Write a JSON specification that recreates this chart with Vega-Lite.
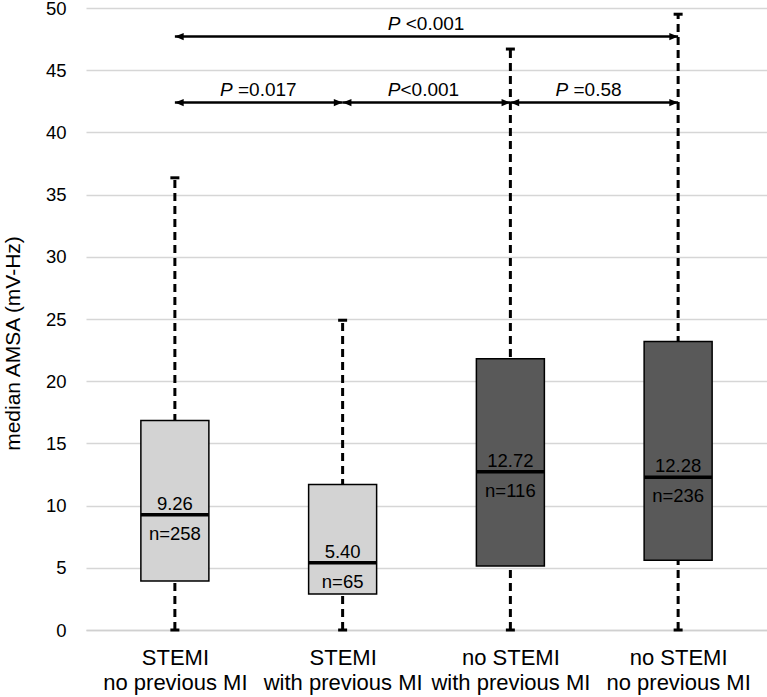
{
  "$schema": "https://vega.github.io/schema/vega-lite/v6.json",
  "autosize": "none",
  "width": 681,
  "height": 622,
  "padding": {"left": 86, "top": 8, "right": 0, "bottom": 67},
  "background": "white",
  "config": {"font": "Liberation Sans", "view": {"stroke": null}},
  "resolve": {"axis": {"x": "independent", "y": "independent"}},
  "datasets": {
    "boxes": [
      {"pos": 1, "type": "STEMI", "lo": 0, "q1": 3.93, "median": 9.26, "q3": 16.85, "hi": 36.35, "med": "9.26", "n": "n=258"},
      {"pos": 2, "type": "STEMI", "lo": 0, "q1": 2.9, "median": 5.4, "q3": 11.7, "hi": 24.9, "med": "5.40", "n": "n=65"},
      {"pos": 3, "type": "no STEMI", "lo": 0, "q1": 5.14, "median": 12.72, "q3": 21.8, "hi": 46.7, "med": "12.72", "n": "n=116"},
      {"pos": 4, "type": "no STEMI", "lo": 0, "q1": 5.6, "median": 12.28, "q3": 23.2, "hi": 49.5, "med": "12.28", "n": "n=236"}
    ],
    "arrows": [
      {"x1": 1, "x2": 4, "xm": 2.5, "y": 47.7, "p": "P", "rest": "\u200b\u00a0<0.001"},
      {"x1": 1, "x2": 2, "xm": 1.5, "y": 42.4, "p": "P", "rest": "\u200b\u00a0=0.017"},
      {"x1": 2, "x2": 3, "xm": 2.5, "y": 42.4, "p": "P", "rest": "<0.001"},
      {"x1": 3, "x2": 4, "xm": 3.5, "y": 42.4, "p": "P", "rest": "\u200b\u00a0=0.58"}
    ]
  },
  "layer": [
    {
      "data": {"name": "boxes"},
      "mark": {"type": "rule", "color": "black", "strokeWidth": 3, "strokeDash": [8, 5]},
      "encoding": {
        "x": {"field": "pos", "type": "quantitative", "scale": {"domain": [0.5, 4.5], "nice": false, "zero": false},
          "axis": {"values": [1, 2, 3, 4], "title": null, "grid": false, "ticks": false, "tickSize": 0,
            "labelExpr": "datum.value == 1 ? ['STEMI', 'no previous MI'] : datum.value == 2 ? ['STEMI', 'with previous MI'] : datum.value == 3 ? ['no STEMI', 'with previous MI'] : ['no STEMI', 'no previous MI']",
            "labelFontSize": 22, "labelLineHeight": 25, "labelPadding": 17, "labelColor": "black",
            "labelOverlap": false, "labelBound": false, "labelFlush": false,
            "domainColor": "#d0d0d0", "domainWidth": 1.5}},
        "y": {"field": "lo", "type": "quantitative", "scale": {"domain": [0, 50], "nice": false},
          "axis": {"values": [0, 5, 10, 15, 20, 25, 30, 35, 40, 45, 50], "title": "median AMSA (mV-Hz)",
            "grid": true, "gridColor": "#d6d6d6", "gridWidth": 1.5, "domain": false, "ticks": false, "tickSize": 0,
            "labelPadding": 20, "labelFontSize": 18.5, "labelColor": "black",
            "titleFontSize": 21, "titleFontWeight": "normal", "titleColor": "black", "titleX": -63, "titleY": 335}},
        "y2": {"field": "hi"}
      }
    },
    {
      "data": {"name": "boxes"},
      "mark": {"type": "tick", "orient": "horizontal", "color": "black", "size": 9, "thickness": 3, "opacity": 1},
      "encoding": {
        "x": {"field": "pos", "type": "quantitative", "axis": null},
        "y": {"field": "hi", "type": "quantitative", "axis": null}
      }
    },
    {
      "data": {"name": "boxes"},
      "mark": {"type": "tick", "orient": "horizontal", "color": "black", "size": 9, "thickness": 3, "opacity": 1},
      "encoding": {
        "x": {"field": "pos", "type": "quantitative", "axis": null},
        "y": {"field": "lo", "type": "quantitative", "axis": null}
      }
    },
    {
      "data": {"name": "boxes"},
      "mark": {"type": "bar", "width": 68, "stroke": "black", "strokeWidth": 1.5, "opacity": 1},
      "encoding": {
        "x": {"field": "pos", "type": "quantitative", "axis": null},
        "y": {"field": "q1", "type": "quantitative", "axis": null},
        "y2": {"field": "q3"},
        "color": {"field": "type", "type": "nominal", "scale": {"domain": ["STEMI", "no STEMI"], "range": ["#d3d3d3", "#595959"]}, "legend": null}
      }
    },
    {
      "data": {"name": "boxes"},
      "mark": {"type": "tick", "orient": "horizontal", "color": "black", "size": 68, "thickness": 3.5, "opacity": 1},
      "encoding": {
        "x": {"field": "pos", "type": "quantitative", "axis": null},
        "y": {"field": "median", "type": "quantitative", "axis": null}
      }
    },
    {
      "data": {"name": "boxes"},
      "mark": {"type": "text", "fontSize": 18.5, "color": "black", "baseline": "alphabetic", "dy": -5},
      "encoding": {
        "x": {"field": "pos", "type": "quantitative", "axis": null},
        "y": {"field": "median", "type": "quantitative", "axis": null},
        "text": {"field": "med"}
      }
    },
    {
      "data": {"name": "boxes"},
      "mark": {"type": "text", "fontSize": 18.5, "color": "black", "baseline": "alphabetic", "dy": 25},
      "encoding": {
        "x": {"field": "pos", "type": "quantitative", "axis": null},
        "y": {"field": "median", "type": "quantitative", "axis": null},
        "text": {"field": "n"}
      }
    },
    {
      "data": {"name": "arrows"},
      "mark": {"type": "rule", "color": "black", "strokeWidth": 2.5},
      "encoding": {
        "x": {"field": "x1", "type": "quantitative", "axis": null},
        "x2": {"field": "x2"},
        "y": {"field": "y", "type": "quantitative", "axis": null}
      }
    },
    {
      "data": {"name": "arrows"},
      "mark": {"type": "point", "shape": "M0,0L2.2,-0.9L2.2,0.9Z", "size": 64, "filled": true, "color": "black", "opacity": 1},
      "encoding": {
        "x": {"field": "x1", "type": "quantitative", "axis": null},
        "y": {"field": "y", "type": "quantitative", "axis": null}
      }
    },
    {
      "data": {"name": "arrows"},
      "mark": {"type": "point", "shape": "M0,0L-2.2,-0.9L-2.2,0.9Z", "size": 64, "filled": true, "color": "black", "opacity": 1},
      "encoding": {
        "x": {"field": "x2", "type": "quantitative", "axis": null},
        "y": {"field": "y", "type": "quantitative", "axis": null}
      }
    },
    {
      "data": {"name": "arrows"},
      "mark": {"type": "text", "fontSize": 19, "fontStyle": "italic", "color": "black", "align": "right", "baseline": "alphabetic", "dy": -7, "dx": -26},
      "encoding": {
        "x": {"field": "xm", "type": "quantitative", "axis": null},
        "y": {"field": "y", "type": "quantitative", "axis": null},
        "text": {"field": "p"}
      }
    },
    {
      "data": {"name": "arrows"},
      "mark": {"type": "text", "fontSize": 19, "color": "black", "align": "left", "baseline": "alphabetic", "dy": -7, "dx": -26},
      "encoding": {
        "x": {"field": "xm", "type": "quantitative", "axis": null},
        "y": {"field": "y", "type": "quantitative", "axis": null},
        "text": {"field": "rest"}
      }
    }
  ]
}
